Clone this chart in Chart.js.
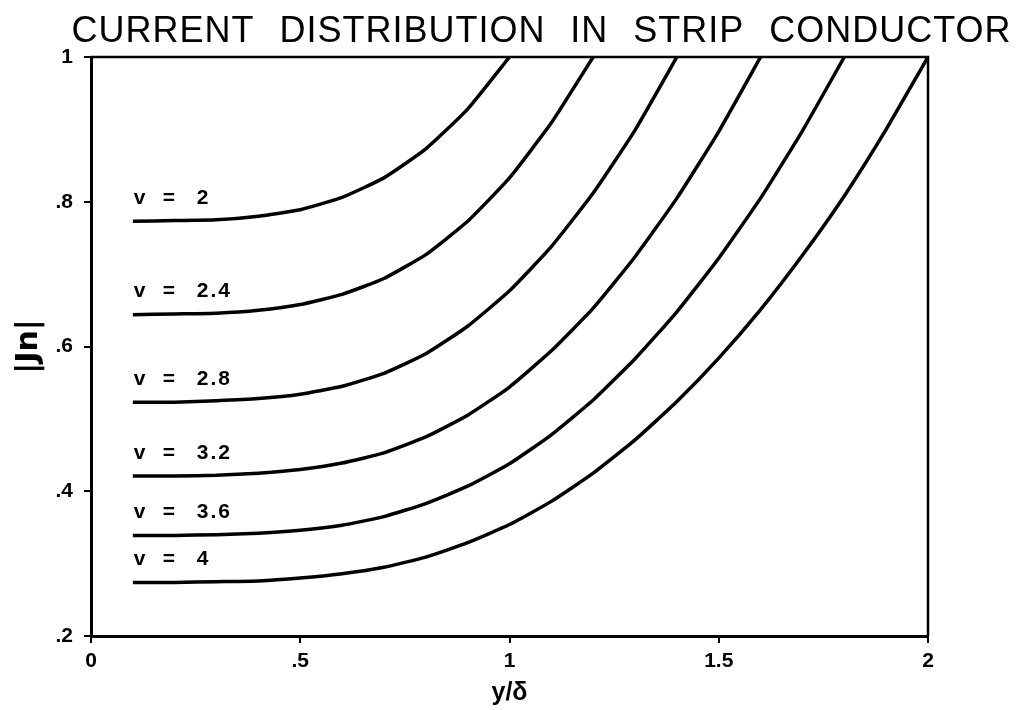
<!DOCTYPE html>
<html>
<head>
<meta charset="utf-8">
<title>Current distribution in strip conductor</title>
<script src="https://cdn.jsdelivr.net/npm/chart.js@4/dist/chart.umd.min.js"></script>
<style>
    html, body { margin: 0; padding: 0; background: #ffffff; }
    #wrap { width: 1024px; height: 710px; }
</style>
</head>
<body>
<div id="wrap"><canvas id="chart" width="1024" height="710"></canvas></div>
<script>
// values: y/delta positions and |Jn| for each curve
const xs = [0.1, 0.2, 0.3, 0.4, 0.5, 0.6, 0.7, 0.8, 0.9, 1.0,
            1.1, 1.2, 1.3, 1.4, 1.5, 1.6, 1.7, 1.8, 1.9, 2.0];

const nuLabels = ['2', '2.4', '2.8', '3.2', '3.6', '4'];

const jn20 = [0.773, 0.774, 0.775, 0.780, 0.789, 0.806, 0.833, 0.873, 0.928, 1.000];
const jn24 = [0.644, 0.645, 0.646, 0.650, 0.658, 0.672, 0.694, 0.727, 0.773, 0.833, 0.909, 1.000];
const jn28 = [0.523, 0.523, 0.525, 0.528, 0.534, 0.545, 0.563, 0.590, 0.628, 0.677, 0.738, 0.812,
              0.899, 1.000];
const jn32 = [0.421, 0.421, 0.422, 0.425, 0.430, 0.439, 0.453, 0.475, 0.505, 0.544, 0.594, 0.653,
              0.724, 0.805, 0.897, 1.000];
const jn36 = [0.339, 0.339, 0.340, 0.342, 0.346, 0.353, 0.365, 0.383, 0.407, 0.438, 0.478, 0.526,
              0.583, 0.648, 0.722, 0.805, 0.898, 1.000];
const jn40 = [0.274, 0.274, 0.275, 0.276, 0.280, 0.286, 0.295, 0.309, 0.329, 0.354, 0.386, 0.425,
              0.471, 0.524, 0.584, 0.651, 0.726, 0.808, 0.900, 1.000];

const xTicks = [0, 0.5, 1, 1.5, 2];
const xTickLabels = ['0', '.5', '1', '1.5', '2'];
const yTicks = [0.2, 0.4, 0.6, 0.8, 1];
const yTickLabels = ['.2', '.4', '.6', '.8', '1'];

const titleText = 'CURRENT DISTRIBUTION IN STRIP CONDUCTOR';

const series = [jn20, jn24, jn28, jn32, jn36, jn40];

function toPoints(values) {
    return values.map((v, i) => ({ x: xs[i], y: v }));
}

// title, frame and the nu labels next to each curve
const decorations = {
    id: 'decorations',
    afterDatasetsDraw(chart) {
        const ctx = chart.ctx;
        const area = chart.chartArea;

        ctx.save();
        ctx.strokeStyle = '#000';
        ctx.lineWidth = 2.5;
        ctx.beginPath();
        ctx.moveTo(area.left, area.top);
        ctx.lineTo(area.right, area.top);
        ctx.lineTo(area.right, area.bottom);
        ctx.stroke();

        // curve labels sit just above the flat start of each curve
        ctx.fillStyle = '#000';
        ctx.font = 'bold 21px "Liberation Sans", Arial, sans-serif';
        ctx.textBaseline = 'middle';
        ctx.textAlign = 'left';
        if ('letterSpacing' in ctx) ctx.letterSpacing = '2px';
        chart.data.datasets.forEach((ds, i) => {
            const first = chart.getDatasetMeta(i).data[0];
            const y = first.y - 23;
            ctx.fillText('v', first.x + 1, y);
            ctx.fillText('=', first.x + 30, y);
            ctx.fillText(nuLabels[i], first.x + 64, y);
        });

        // title, spread out like the original lettering
        ctx.font = '36px "Liberation Sans", Arial, sans-serif';
        ctx.textBaseline = 'alphabetic';
        if ('letterSpacing' in ctx) ctx.letterSpacing = '1px';
        const words = titleText.split(' ');
        const target = 940;
        let wordsWidth = 0;
        words.forEach(w => { wordsWidth += ctx.measureText(w).width; });
        const gap = (target - wordsWidth) / (words.length - 1);
        let x = (area.left + area.right) / 2 + 32 - target / 2;
        words.forEach(w => {
            ctx.fillText(w, x, 42);
            x += ctx.measureText(w).width + gap;
        });
        ctx.restore();
    }
};

const tickFont = { family: '"Liberation Sans", Arial, sans-serif', size: 21, weight: 'bold' };

new Chart(document.getElementById('chart'), {
    type: 'line',
    data: {
        datasets: series.map((vals, i) => ({
            label: 'v = ' + nuLabels[i],
            data: toPoints(vals),
            borderColor: '#000',
            borderWidth: 3.5,
            pointRadius: 0,
            tension: 0.15,
            fill: false
        }))
    },
    options: {
        responsive: false,
        animation: false,
        layout: { padding: { left: 0, right: 96, top: 57, bottom: 0 } },
        plugins: {
            legend: { display: false },
            tooltip: { enabled: false },
            title: { display: false }
        },
        scales: {
            x: {
                type: 'linear',
                min: 0,
                max: 2,
                afterFit(scale) { scale.height = 74; },
                afterBuildTicks(scale) { scale.ticks = xTicks.map(v => ({ value: v })); },
                border: { display: true, color: '#000', width: 3 },
                grid: { display: true, drawOnChartArea: false, drawTicks: true, tickLength: 7, color: '#000', lineWidth: 2 },
                ticks: {
                    color: '#000',
                    font: tickFont,
                    padding: 6,
                    maxRotation: 0,
                    callback: (v) => xTickLabels[xTicks.indexOf(v)]
                },
                title: {
                    display: true,
                    text: 'y/δ',
                    color: '#000',
                    font: { family: '"Liberation Sans", Arial, sans-serif', size: 25, weight: 'bold' },
                    padding: { top: 0, bottom: 2 }
                }
            },
            y: {
                type: 'linear',
                min: 0.2,
                max: 1,
                afterFit(scale) { scale.width = 91; },
                afterBuildTicks(scale) { scale.ticks = yTicks.map(v => ({ value: v })); },
                border: { display: true, color: '#000', width: 3 },
                grid: { display: true, drawOnChartArea: false, drawTicks: true, tickLength: 7, color: '#000', lineWidth: 2 },
                ticks: {
                    color: '#000',
                    font: tickFont,
                    padding: 11,
                    callback: (v) => yTickLabels[yTicks.indexOf(v)]
                },
                title: {
                    display: true,
                    text: '|Jn|',
                    color: '#000',
                    font: { family: '"DejaVu Sans", sans-serif', size: 30, weight: 'bold' },
                    padding: { top: 11, bottom: 0 }
                }
            }
        }
    },
    plugins: [decorations]
});
</script>
</body>
</html>
